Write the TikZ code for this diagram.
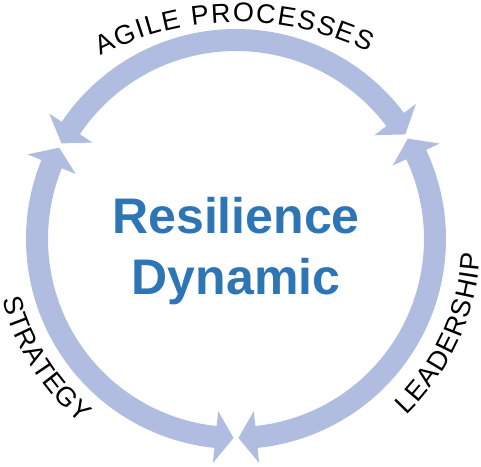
\documentclass[tikz,border=0pt]{standalone}
\usepackage{fontspec}
\setmainfont{Liberation Sans}
\usepackage{xcolor}
\usetikzlibrary{decorations.text}

\definecolor{ringblue}{RGB}{176,189,224}
\definecolor{titleblue}{RGB}{46,117,182}

\tikzset{
    band/.style={fill=ringblue},
    title/.style={font=\bfseries\fontsize{50}{60}\selectfont, text=titleblue, inner sep=0pt, anchor=base},
    arc label/.style={decorate, decoration={text along path, text align=fit to path,
        text={|\fontsize{27}{27}\selectfont|#1}}}
}

\begin{document}
\begin{tikzpicture}[x=1pt, y=1pt]
    \useasboundingbox (-236,-227) rectangle (245,239);

    % Ring sizes: mid line, band edges, head half width, head angle, gap
    \def\rmid{199} \def\rin{188} \def\rout{210}
    \def\hw{26} \def\ha{5.2} \def\gap{0.7}

    % Three curved arrows, a head at each end
    \foreach \a/\b in {31/152, 152/270, 270/391} {
        \fill[band] ({\a+\gap}:\rmid) -- ({\a+\gap+\ha}:{\rmid+\hw}) -- ({\a+\gap+\ha}:\rout)
            arc[start angle={\a+\gap+\ha}, end angle={\b-\gap-\ha}, radius=\rout]
            -- ({\b-\gap-\ha}:{\rmid+\hw}) -- ({\b-\gap}:\rmid) -- ({\b-\gap-\ha}:{\rmid-\hw})
            -- ({\b-\gap-\ha}:\rin)
            arc[start angle={\b-\gap-\ha}, end angle={\a+\gap+\ha}, radius=\rin]
            -- ({\a+\gap+\ha}:{\rmid-\hw}) -- cycle;
    }

    % Labels round the ring
    \path[arc label={AGILE PROCESSES}] ([shift={(2,-81)}]117.5:298) arc[start angle=117.5, end angle=64, radius=298];
    \path[arc label={LEADERSHIP}] (-46:245) arc[start angle=-46, end angle=-3.5, radius=245];
    \path[arc label={STRATEGY}] (194.5:241) arc[start angle=194.5, end angle=230, radius=241];

    % Centre title
    \node[title] (res) at (0,6) {Resilience};
    \node[title] (dyn) at ([yshift=-61pt]res.base) {Dynamic};
\end{tikzpicture}
\end{document}
